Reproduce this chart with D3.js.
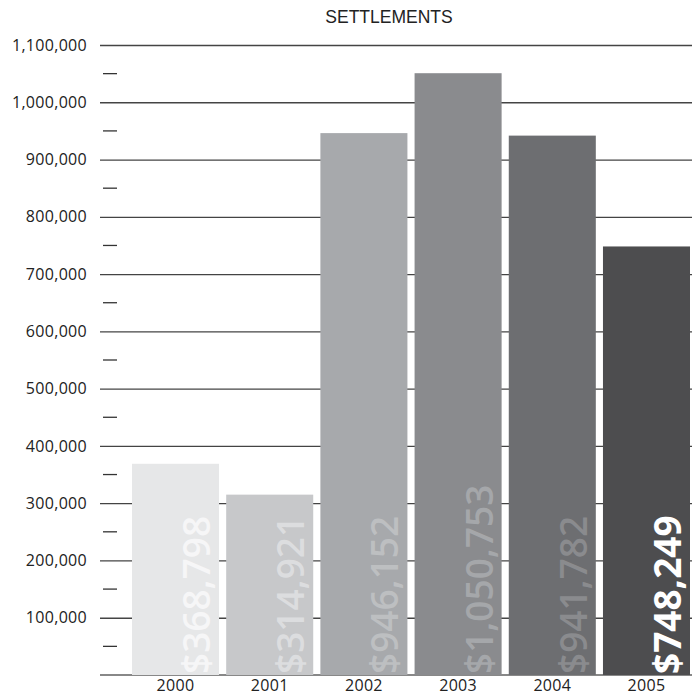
<!DOCTYPE html>
<html>
<head>
<meta charset="utf-8">
<script src="https://cdn.jsdelivr.net/npm/d3@7"></script>
<style>
  body { margin: 0; background: #fff; }
  svg { display: block; }
</style>
</head>
<body>
<div id="main"></div>
<script>
const years = ['2000', '2001', '2002', '2003', '2004', '2005'];
const settlements = [368798, 314921, 946152, 1050753, 941782, 748249];
const barColors = ['#e6e7e8', '#c7c8ca', '#a7a9ac', '#8a8b8e', '#6d6e71', '#4d4d4f'];
const labelColors = ['#f6f6f7', '#dcdddf', '#bdbfc1', '#a5a7aa', '#8a8b8e', '#ffffff'];
const majorTicks = d3.range(100000, 1100001, 100000);
const minorTicks = d3.range(50000, 1050001, 100000);

document.addEventListener('DOMContentLoaded', () => {
  const width = 692, height = 695;
  const margin = { top: 45, right: 0, bottom: 20, left: 100 };

  const sx = d3.scaleBand()
    .domain(years)
    .range([132, 690])
    .paddingInner(0.076)
    .paddingOuter(0);
  const sy = d3.scaleLinear()
    .domain([0, 1100000])
    .range([height - margin.bottom, margin.top]);

  const svg = d3.select('#main').append('svg')
    .attr('width', width).attr('height', height)
    .attr('viewBox', [0, 0, width, height]);

  svg.append('text')
    .attr('x', 389).attr('y', 23)
    .attr('text-anchor', 'middle')
    .style('font', '17.5px "Liberation Sans", Arial, sans-serif')
    .attr('fill', '#222')
    .text('SETTLEMENTS');

  // gridlines with labels
  const ay = d3.axisLeft(sy)
    .tickValues(majorTicks)
    .tickSize(-(width - margin.left))
    .tickPadding(13)
    .tickFormat(d3.format(','));
  const gy = svg.append('g')
    .attr('transform', `translate(${margin.left},0)`)
    .call(ay);
  gy.select('.domain').remove();
  gy.selectAll('.tick line').attr('stroke', '#444').attr('stroke-width', 1.3);
  gy.selectAll('.tick text')
    .attr('fill', '#222')
    .style('font', '16px "Open Sans", sans-serif')
    .style('letter-spacing', '0.3px');

  // minor dashes
  svg.append('g').selectAll('line').data(minorTicks).join('line')
    .attr('x1', 103).attr('x2', 117)
    .attr('y1', d => sy(d)).attr('y2', d => sy(d))
    .attr('stroke', '#333').attr('stroke-width', 1.3);

  // baseline
  svg.append('line')
    .attr('x1', margin.left).attr('x2', width)
    .attr('y1', sy(0)).attr('y2', sy(0))
    .attr('stroke', '#888').attr('stroke-width', 2);

  // bars
  svg.append('g').selectAll('rect').data(years).join('rect')
    .attr('x', d => sx(d))
    .attr('width', sx.bandwidth())
    .attr('y', (d, i) => sy(settlements[i]))
    .attr('height', (d, i) => sy(0) - sy(settlements[i]))
    .attr('fill', (d, i) => barColors[i]);

  // rotated value labels
  const money = v => '$' + d3.format(',')(v);
  svg.append('g').selectAll('text').data(years).join('text')
    .attr('transform', d => `translate(${sx(d) + sx.bandwidth() - 9},${sy(0) - 1}) rotate(-90)`)
    .attr('fill', (d, i) => labelColors[i])
    .style('font-family', '"Open Sans", sans-serif')
    .style('font-size', '37px')
    .style('font-weight', (d, i) => i === 5 ? 700 : 600)
    .text((d, i) => money(settlements[i]));

  // x labels
  svg.append('g').selectAll('text').data(years).join('text')
    .attr('x', d => sx(d) + sx.bandwidth() / 2)
    .attr('y', 691)
    .attr('text-anchor', 'middle')
    .attr('fill', '#222')
    .style('font', '16px "Open Sans", sans-serif')
    .style('letter-spacing', '0.3px')
    .text(d => d);
});
</script>
</body>
</html>
